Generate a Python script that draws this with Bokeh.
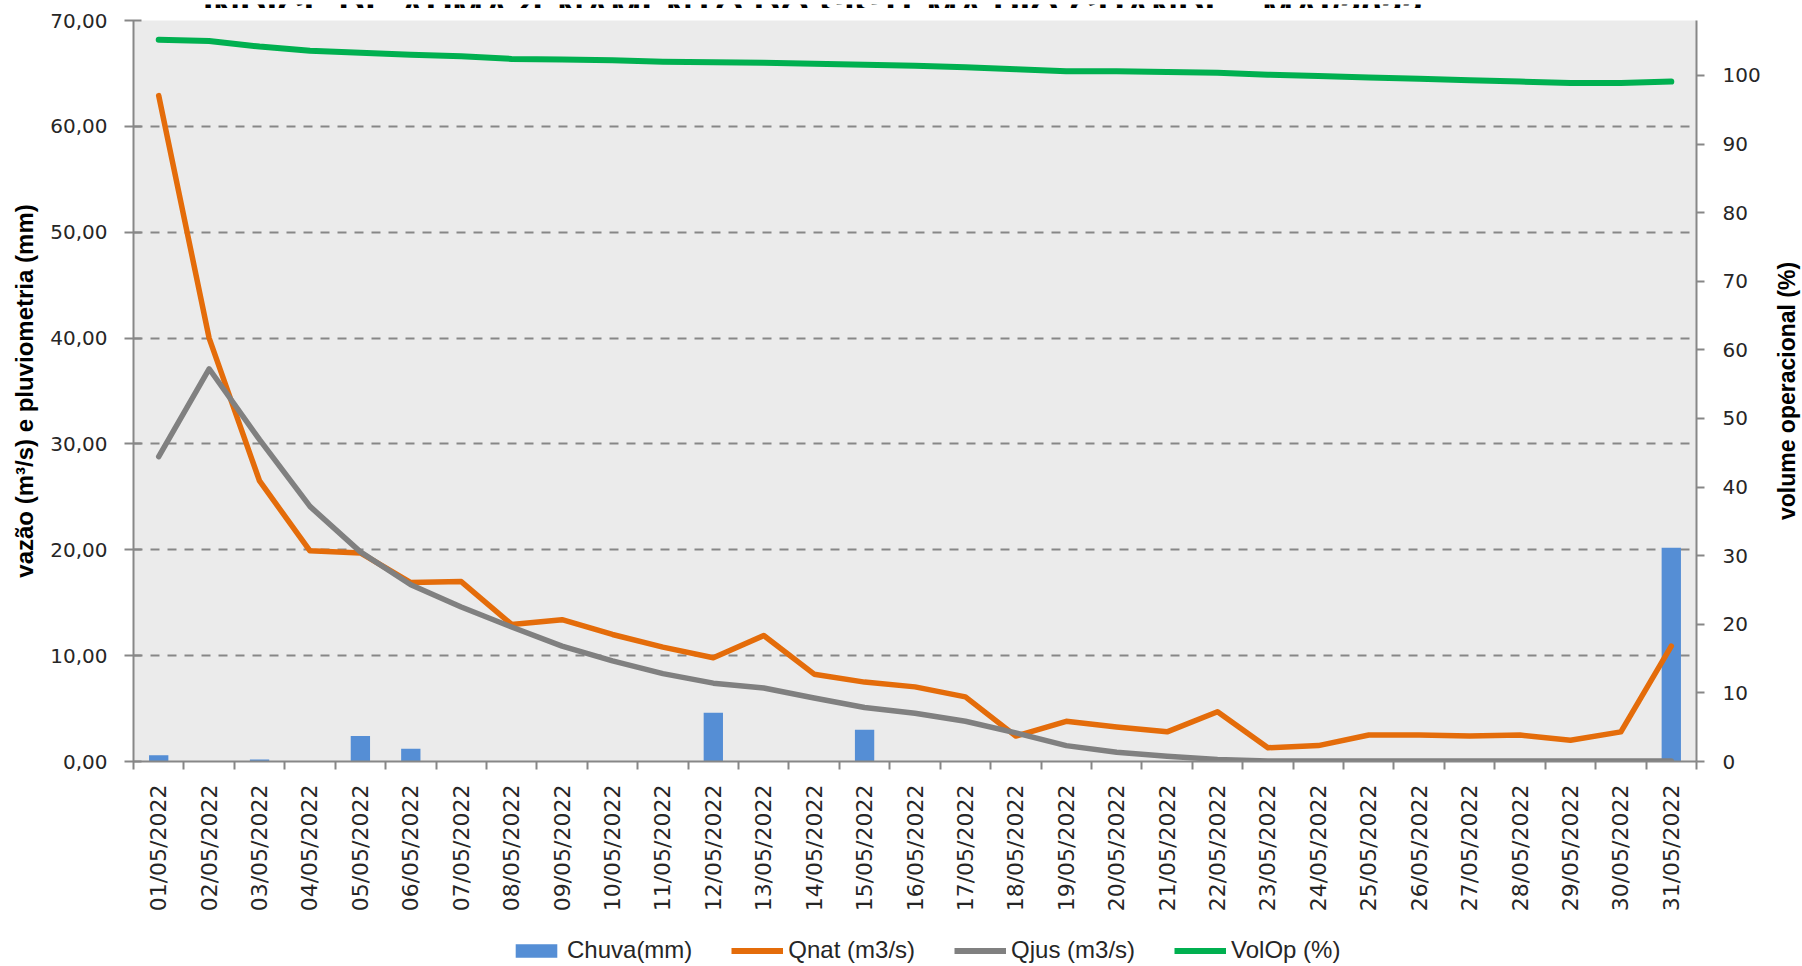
import math
from bokeh.plotting import figure
from bokeh.layouts import column, row
from bokeh.models import (LinearAxis, Range1d, FixedTicker, Legend, LegendItem, Label)
from bokeh.embed import file_html
from bokeh.resources import INLINE

# ---------------- data ----------------
days = list(range(1, 32))
date_labels = [f"{d:02d}/05/2022" for d in days]

chuva = [0.6, 0.0, 0.2, 0.0, 2.4, 1.2, 0.0, 0.0, 0.0, 0.0, 0.0, 4.6, 0.0, 0.0, 3.0, 0.0,
         0.0, 0.0, 0.0, 0.0, 0.0, 0.0, 0.0, 0.0, 0.0, 0.0, 0.0, 0.0, 0.0, 0.0, 20.2]
qnat = [62.9, 40.0, 26.5, 19.9, 19.7, 16.9, 17.0, 12.95, 13.4, 12.0, 10.8, 9.8, 11.9, 8.25,
        7.5, 7.05, 6.1, 2.4, 3.8, 3.25, 2.8, 4.7, 1.3, 1.5, 2.5, 2.5, 2.4, 2.5, 2.0, 2.8, 10.9]
qjus = [28.8, 37.1, 30.4, 24.1, 19.8, 16.7, 14.6, 12.7, 10.9, 9.5, 8.3, 7.4, 6.95, 6.0,
        5.1, 4.55, 3.8, 2.7, 1.5, 0.87, 0.5, 0.2, 0.05, 0.05, 0.05, 0.05, 0.05, 0.05, 0.05, 0.05, 0.05]
volop = [105.2, 105.0, 104.2, 103.6, 103.3, 103.0, 102.8, 102.4, 102.3, 102.2, 102.0, 101.9,
         101.85, 101.7, 101.55, 101.4, 101.2, 100.9, 100.6, 100.6, 100.5, 100.4, 100.1, 99.9,
         99.7, 99.5, 99.3, 99.1, 98.9, 98.9, 99.1]

left_ticks = [0, 10, 20, 30, 40, 50, 60, 70]
left_tick_labels = ["0,00", "10,00", "20,00", "30,00", "40,00", "50,00", "60,00", "70,00"]
right_ticks = [0, 10, 20, 30, 40, 50, 60, 70, 80, 90, 100]
right_tick_labels = [str(t) for t in right_ticks]

series_names = ["Chuva(mm)", "Qnat (m3/s)", "Qjus (m3/s)", "VolOp (%)"]
title_text = "ÍNDICE DE ARMAZENAMENTO DO SISTEMA RIO GRANDE - MAI/2022"
left_title = "vazão (m³/s) e pluviometria (mm)"
right_title = "volume operacional (%)"

# ---------------- styles ----------------
GRID = "#878787"
TXT = "#262626"
TICK_FONT = "DejaVu Sans"
SANS = "Liberation Sans"
C_BAR, C_QNAT, C_QJUS, C_VOL = "#558ED5", "#E46C0A", "#808080", "#00B050"

W = 1770            # main column width (right title strip takes the rest)
W_R = 32
H_TOP, H_MAIN, H_LEG = 8, 908, 50
FRAME_LEFT, FRAME_RIGHT = 133, 1696
FRAME_TOP, FRAME_BOTTOM = 12, 753      # inside the main figure


def bare(width, height, xr, yr):
    f = figure(width=width, height=height, output_backend="svg", toolbar_location=None,
               x_range=xr, y_range=yr, min_border=0,
               x_axis_location=None, y_axis_location=None)
    f.outline_line_color = None
    f.xgrid.visible = False
    f.ygrid.visible = False
    f.background_fill_color = "white"
    f.border_fill_color = "white"
    return f


# ---------------- main plot ----------------
p = figure(width=W, height=H_MAIN, output_backend="svg", toolbar_location=None,
           x_range=Range1d(0.5, 31.5), y_range=Range1d(0, 70),
           min_border_left=FRAME_LEFT, min_border_right=W - FRAME_RIGHT,
           min_border_top=FRAME_TOP, min_border_bottom=H_MAIN - FRAME_BOTTOM,
           x_axis_location=None, y_axis_location=None)
p.extra_y_ranges = {"vol": Range1d(0, 108)}
p.background_fill_color = "#EBEBEB"
p.border_fill_color = "white"
p.outline_line_color = None

# x axis
xax = LinearAxis(ticker=FixedTicker(ticks=days, minor_ticks=[d + 0.5 for d in [0] + days]))
xax.major_label_overrides = {d: lab for d, lab in zip(days, date_labels)}
xax.major_label_orientation = math.pi / 2
xax.major_tick_out = 0
xax.major_tick_in = 0
xax.minor_tick_out = 8
xax.minor_tick_in = 0
xax.minor_tick_line_color = GRID
xax.minor_tick_line_width = 2
xax.axis_line_color = GRID
xax.axis_line_width = 2
xax.major_label_standoff = 15
xax.major_label_text_font = TICK_FONT
xax.major_label_text_font_size = "22px"
xax.major_label_text_color = TXT
p.add_layout(xax, "below")

# left axis
yax = LinearAxis(ticker=FixedTicker(ticks=left_ticks))
yax.major_label_overrides = {t: lab for t, lab in zip(left_ticks, left_tick_labels)}
yax.major_tick_out = 9
yax.major_tick_in = 8
yax.minor_tick_out = 0
yax.minor_tick_in = 0
yax.major_tick_line_color = GRID
yax.major_tick_line_width = 2
yax.axis_line_color = GRID
yax.axis_line_width = 2
yax.major_label_standoff = 17
yax.major_label_text_font = TICK_FONT
yax.major_label_text_font_size = "20px"
yax.major_label_text_color = TXT
yax.axis_label = left_title
yax.axis_label_text_font = SANS
yax.axis_label_text_font_style = "bold"
yax.axis_label_text_font_size = "24px"
yax.axis_label_text_color = "black"
yax.axis_label_standoff = 9
p.add_layout(yax, "left")

# right axis
rax = LinearAxis(y_range_name="vol", ticker=FixedTicker(ticks=right_ticks))
rax.major_label_overrides = {t: lab for t, lab in zip(right_ticks, right_tick_labels)}
rax.major_tick_out = 8
rax.major_tick_in = 0
rax.minor_tick_out = 0
rax.minor_tick_in = 0
rax.major_tick_line_color = GRID
rax.major_tick_line_width = 2
rax.axis_line_color = GRID
rax.axis_line_width = 2
rax.major_label_standoff = 18
rax.major_label_text_font = TICK_FONT
rax.major_label_text_font_size = "20px"
rax.major_label_text_color = TXT
p.add_layout(rax, "right")

# grid
p.xgrid.visible = False
p.ygrid.ticker = FixedTicker(ticks=left_ticks[1:])
p.ygrid.grid_line_color = GRID
p.ygrid.grid_line_width = 2
p.ygrid.grid_line_dash = "9 8"

# glyphs
p.vbar(x=days, top=chuva, width=0.383, bottom=0, fill_color=C_BAR, line_color=None)
p.line(days, qnat, line_color=C_QNAT, line_width=5.5, line_join="round", line_cap="round")
p.line(days, qjus, line_color=C_QJUS, line_width=5.5, line_join="round", line_cap="round")
p.line(days, volop, line_color=C_VOL, line_width=6, line_join="round", line_cap="round",
       y_range_name="vol")

# ---------------- title strip (title cut by the top edge, as in the original) ----------------
top = bare(W, H_TOP, Range1d(0.5, 31.5), Range1d(0, H_TOP))
top.add_layout(Label(x=14.0, y=1, text=title_text, text_align="center", text_baseline="alphabetic",
                     text_font=SANS, text_font_style="bold", text_font_size="37px",
                     text_color="black"))

# ---------------- legend strip ----------------
lf = bare(W, H_LEG, Range1d(0, 1), Range1d(0, 1))
r_bar = lf.vbar(x=[-100], top=[0.5], bottom=[0.5], width=0.5, fill_color=C_BAR, line_color=None)
r_qnat = lf.line(x=[-100, -99], y=[0.5, 0.5], line_color=C_QNAT, line_width=6)
r_qjus = lf.line(x=[-100, -99], y=[0.5, 0.5], line_color=C_QJUS, line_width=6)
r_vol = lf.line(x=[-100, -99], y=[0.5, 0.5], line_color=C_VOL, line_width=6)
legend = Legend(items=[LegendItem(label=series_names[0], renderers=[r_bar]),
                       LegendItem(label=series_names[1], renderers=[r_qnat]),
                       LegendItem(label=series_names[2], renderers=[r_qjus]),
                       LegendItem(label=series_names[3], renderers=[r_vol])],
                orientation="horizontal", location=(377, 2),
                glyph_width=52, glyph_height=17, label_standoff=5, spacing=39,
                padding=0, margin=0, border_line_color=None, background_fill_alpha=0,
                label_text_font=SANS, label_text_font_size="24px", label_text_color=TXT)
lf.add_layout(legend)

# ---------------- right title strip ----------------
H_R = 781
rf = bare(W_R, H_R, Range1d(0, 1), Range1d(0, 1))
rf.add_layout(Label(x=0.5, y=0.5, text=right_title, angle=90, angle_units="deg",
                    text_align="center", text_baseline="middle",
                    text_font=SANS, text_font_style="bold", text_font_size="23px",
                    text_color="black"))

layout = row(column(top, p, lf, spacing=0), rf, spacing=0)
open("out.html", "w").write(file_html(layout, INLINE))
